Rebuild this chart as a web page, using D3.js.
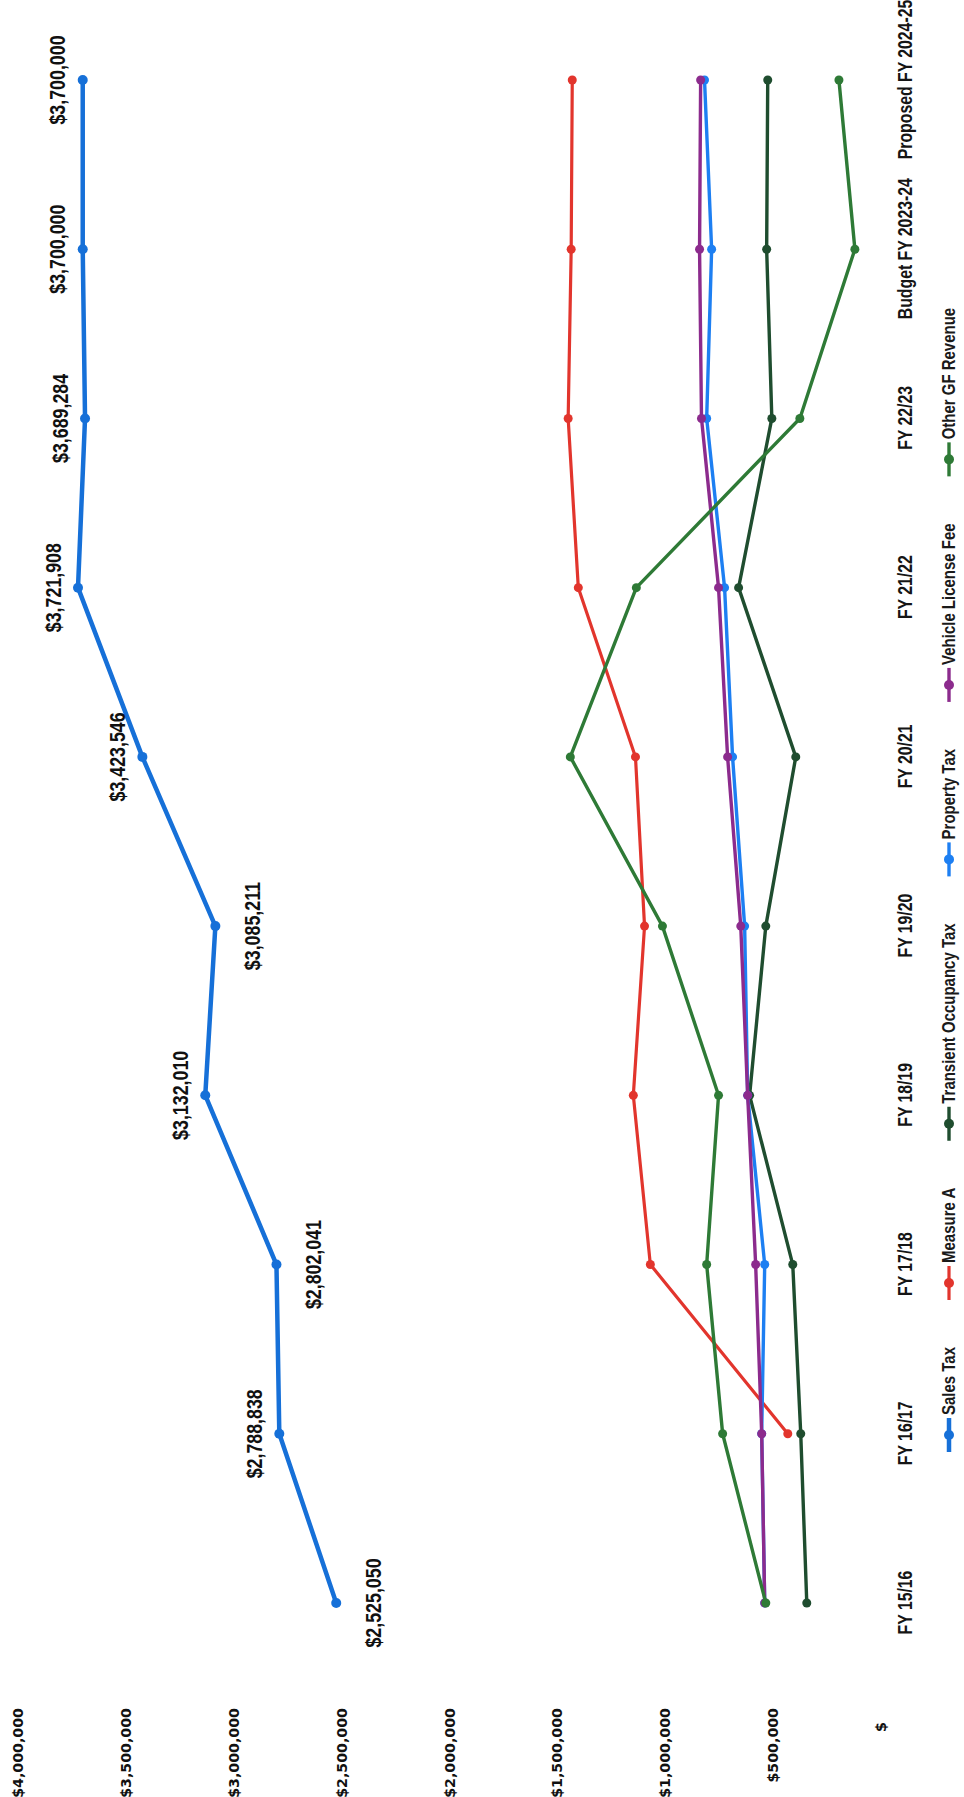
<!DOCTYPE html>
<html>
<head>
<meta charset="utf-8">
<script src="https://cdn.jsdelivr.net/npm/d3@7/dist/d3.min.js"></script>
<style>
  html, body { margin: 0; padding: 0; background: #ffffff; }
  svg { display: block; }
  .cond { font-family: 'Liberation Sans', Arial, sans-serif; font-weight: bold; }
</style>
</head>
<body>
<div id="chart"></div>
<script>
// Fiscal years shown along the category axis
const categories = ['FY 15/16', 'FY 16/17', 'FY 17/18', 'FY 18/19', 'FY 19/20', 'FY 20/21', 'FY 21/22', 'FY 22/23', 'Budget FY 2023-24', 'Proposed FY 2024-25'];

// General fund revenue by source
const salesTax = [2525050, 2788838, 2802041, 3132010, 3085211, 3423546, 3721908, 3689284, 3700000, 3700000];
const measureA = [null, 432000, 1069000, 1148000, 1096000, 1138000, 1403000, 1450000, 1436000, 1431000];
const transientOccupancyTax = [344000, 372000, 409000, 609000, 534000, 395000, 660000, 506000, 530000, 525000];
const propertyTax = [539000, 553000, 539000, 618000, 632000, 688000, 725000, 808000, 785000, 818000];
const vehicleLicenseFee = [539000, 553000, 581000, 618000, 650000, 711000, 753000, 832000, 841000, 836000];
const otherGFRevenue = [534000, 734000, 808000, 753000, 1013000, 1440000, 1134000, 376000, 121000, 195000];

// Value axis ticks
const valueTicks = [0, 500000, 1000000, 1500000, 2000000, 2500000, 3000000, 3500000, 4000000];

// Which side of the Sales Tax point each value label sits on
const salesTaxLabelSide = ['below', 'above', 'below', 'above', 'below', 'above', 'above', 'above', 'above', 'above'];

const seriesList = [
  { name: 'Sales Tax', values: salesTax, color: '#1670D8', width: 4.5 },
  { name: 'Measure A', values: measureA, color: '#E2352D', width: 3.2 },
  { name: 'Transient Occupancy Tax', values: transientOccupancyTax, color: '#1F4D2F', width: 3.4 },
  { name: 'Property Tax', values: propertyTax, color: '#1D7FF2', width: 3.4 },
  { name: 'Vehicle License Fee', values: vehicleLicenseFee, color: '#8C2B8D', width: 3.4 },
  { name: 'Other GF Revenue', values: otherGFRevenue, color: '#2E7A36', width: 3.4 }
];

const pageW = 964, pageH = 1797;
// Condensed look for the Calibri-style labels
const squeeze = 0.81;

const svg = d3.select('#chart').append('svg')
  .attr('width', pageW).attr('height', pageH);

// The chart is laid out in its own frame and turned a quarter turn onto the page
const g = svg.append('g').attr('transform', `translate(0,${pageH}) rotate(-90)`);

const x = d3.scalePoint().domain(categories).range([194, 1717]);
const y = d3.scaleLinear().domain([0, 4000000]).range([881, 18]);

// Value axis
const fmt = d3.format('$,');
const yAxis = d3.axisLeft(y)
  .tickValues(valueTicks)
  .tickSize(0)
  .tickPadding(3)
  .tickFormat(d => d === 0 ? '$' : fmt(d));
const yG = g.append('g').attr('transform', 'translate(92,0)').call(yAxis);
yG.select('.domain').remove();
yG.selectAll('text')
  .attr('font-family', "'DejaVu Sans', sans-serif")
  .attr('font-weight', 'bold')
  .attr('font-size', 14.2)
  .attr('fill', '#111');
yG.selectAll('.tick').filter(d => d === 0).select('text').attr('x', -17);

// Category axis
const xAxis = d3.axisBottom(x).tickSize(0).tickPadding(3);
const xG = g.append('g').attr('transform', 'translate(0,895)').call(xAxis);
xG.select('.domain').remove();
xG.selectAll('text')
  .attr('class', 'cond')
  .attr('font-size', 19.5)
  .attr('fill', '#151515')
  .attr('transform', `scale(${squeeze},1)`);

// Series lines and markers
const line = d3.line()
  .defined(d => d.v !== null)
  .x(d => x(d.c))
  .y(d => y(d.v));

seriesList.forEach(s => {
  const pts = categories.map((c, i) => ({ c, v: s.values[i] }));
  g.append('path')
    .datum(pts)
    .attr('fill', 'none')
    .attr('stroke', s.color)
    .attr('stroke-width', s.width)
    .attr('stroke-linejoin', 'round')
    .attr('d', line);
  g.append('g').selectAll('circle')
    .data(pts.filter(d => d.v !== null))
    .join('circle')
    .attr('cx', d => x(d.c))
    .attr('cy', d => y(d.v))
    .attr('r', s.name === 'Sales Tax' ? 5 : 4.5)
    .attr('fill', s.color);
});

// Sales Tax value labels
g.append('g').selectAll('text')
  .data(categories.map((c, i) => ({ c, v: salesTax[i], side: salesTaxLabelSide[i] })))
  .join('text')
  .attr('class', 'cond')
  .attr('font-size', 22)
  .attr('fill', '#111')
  .attr('text-anchor', 'middle')
  .attr('dominant-baseline', 'central')
  .attr('transform', d => `translate(${x(d.c)},${y(d.v) + (d.side === 'above' ? -25 : 37)}) scale(${squeeze},1)`)
  .text(d => fmt(d.v));

// Legend
const legend = g.append('g').attr('transform', 'translate(0,949)');
let cursor = 345;
seriesList.forEach(s => {
  const item = legend.append('g').attr('transform', `translate(${cursor},0)`);
  item.append('line')
    .attr('x1', 0).attr('x2', 34)
    .attr('stroke', s.color).attr('stroke-width', s.width);
  item.append('circle').attr('cx', 17).attr('r', 5).attr('fill', s.color);
  const t = item.append('text')
    .attr('class', 'cond')
    .attr('font-size', 18.5)
    .attr('fill', '#1a1a1a')
    .attr('dominant-baseline', 'central')
    .attr('transform', `translate(37,0) scale(${squeeze},1)`)
    .text(s.name);
  cursor += 37 + t.node().getComputedTextLength() * squeeze + 47;
});
</script>
</body>
</html>
